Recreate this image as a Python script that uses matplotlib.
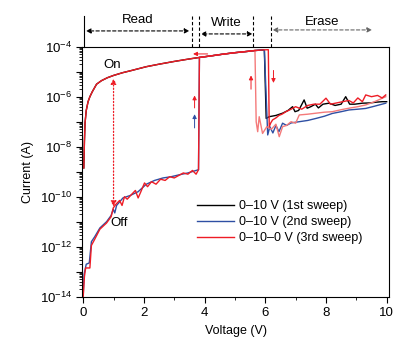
import numpy as np
import matplotlib
matplotlib.use("Agg")
import matplotlib.pyplot as plt
from matplotlib.ticker import FixedLocator, LogLocator, NullFormatter, FuncFormatter
import matplotlib.transforms as mtransforms

plt.rcParams['font.family'] = ['Liberation Sans', 'DejaVu Sans']
plt.rcParams['mathtext.fontset'] = 'custom'
plt.rcParams['mathtext.rm'] = 'Liberation Sans'

# on-state branch (log10 of current)
on_v = [0.02, 0.04, 0.06, 0.1, 0.16, 0.22, 0.3, 0.44, 0.6, 0.8, 1.0, 1.3, 1.6, 2.08, 2.5, 3.0, 3.5, 3.83,
        4.2, 4.6, 5.0, 5.4, 5.7, 5.91]
on_log = [-8.85, -7.8, -7.06, -6.55, -6.2, -6.0, -5.8, -5.5, -5.36, -5.24, -5.15, -5.04, -4.95, -4.8,
          -4.7, -4.59, -4.49, -4.43, -4.37, -4.3, -4.24, -4.19, -4.15, -4.13]

# off-state branches
blue_off_v = [0.0, 0.03, 0.1, 0.2, 0.27, 0.38, 0.55, 0.77, 0.92, 0.99, 1.04, 1.1, 1.31, 1.55, 1.81,
              2.08, 2.35, 2.63, 2.9, 3.18, 3.45, 3.72, 3.8]
blue_off_log = [-13.95, -13.1, -12.7, -12.65, -11.8, -11.6, -11.25, -11.0, -10.75, -10.5, -10.65,
                -10.35, -10.05, -9.95, -9.8, -9.5, -9.35, -9.25, -9.2, -9.12, -9.05, -8.95, -8.92]
red_off_v = [0.0, 0.04, 0.08, 0.22, 0.27, 0.38, 0.55, 0.77, 0.92, 0.99, 1.08, 1.2, 1.28, 1.36, 1.45,
             1.6, 1.72, 1.81, 1.9, 2.02, 2.12, 2.25, 2.4, 2.55, 2.7, 2.85, 3.0, 3.15, 3.3, 3.45, 3.6,
             3.72, 3.8]
red_off_log = [-14.0, -13.2, -12.85, -12.85, -11.95, -11.7, -11.3, -11.05, -10.8, -10.45, -10.3,
               -10.15, -10.35, -10.0, -10.1, -9.9, -9.75, -10.05, -9.8, -9.45, -9.6, -9.4, -9.5,
               -9.3, -9.35, -9.2, -9.25, -9.15, -9.05, -9.1, -8.95, -9.1, -8.92]

# erase region (after switching off)
black_er_v = [5.97, 6.03, 6.13, 6.35, 6.57, 6.75, 6.9, 6.98, 7.1, 7.28, 7.38, 7.5, 7.65, 7.75, 7.9,
              8.1, 8.3, 8.5, 8.65, 8.78, 8.95, 9.2, 9.45, 9.65, 9.85, 10.0]
black_er_log = [-4.15, -6.87, -6.8, -6.75, -6.66, -6.55, -6.4, -6.6, -6.55, -6.13, -6.46, -6.4,
                -6.3, -6.45, -6.3, -6.26, -6.35, -6.3, -6.0, -6.3, -6.3, -6.26, -6.25, -6.22,
                -6.2, -6.2]
blue_er_v = [5.97, 6.08, 6.15, 6.25, 6.35, 6.45, 6.57, 6.7, 6.85, 7.12, 7.4, 7.67, 7.95, 8.21, 8.5,
             8.76, 9.05, 9.31, 9.6, 9.97]
blue_er_log = [-4.15, -7.53, -7.2, -7.45, -7.15, -7.4, -7.06, -7.15, -7.05, -7.0, -6.95, -6.87,
               -6.78, -6.67, -6.6, -6.53, -6.5, -6.47, -6.38, -6.26]
red_fw_v = [6.1, 6.13, 6.18, 6.24, 6.35, 6.45, 6.55, 6.68, 6.85, 7.0, 7.2, 7.4, 7.6, 7.8, 8.0, 8.15,
            8.35, 8.55, 8.75, 8.9, 9.05, 9.2, 9.31, 9.5, 9.7, 9.85, 9.97]
red_fw_log = [-4.12, -7.2, -7.05, -6.93, -6.85, -6.75, -6.7, -6.6, -6.5, -6.4, -6.5, -6.35, -6.3,
              -6.3, -6.06, -6.3, -6.25, -6.2, -6.15, -6.25, -6.05, -6.2, -5.93, -6.0, -5.95,
              -6.05, -5.93]
red_bw_v = [9.97, 9.6, 9.31, 9.05, 8.76, 8.5, 8.21, 7.95, 7.67, 7.4, 7.12, 7.0, 6.85, 6.7, 6.57,
            6.46, 6.35, 6.2, 6.05, 5.91, 5.8, 5.75, 5.7, 5.66]
red_bw_log = [-6.0, -6.2, -6.33, -6.4, -6.46, -6.52, -6.6, -6.62, -6.66, -6.7, -6.73, -7.06, -7.0,
              -7.15, -7.2, -7.6, -7.1, -7.3, -7.2, -7.47, -6.8, -7.4, -7.0, -4.15]

# pieces of each sweep
black_v = on_v + black_er_v
black_log = on_log + black_er_log
blue_v = blue_off_v + [v for v in on_v if v > 3.8] + blue_er_v
blue_log = blue_off_log + [l for v, l in zip(on_v, on_log) if v > 3.8] + blue_er_log
red1_v = red_off_v + [v for v in on_v if v > 3.8] + red_fw_v
red1_log = red_off_log + [l for v, l in zip(on_v, on_log) if v > 3.8] + red_fw_log
red2_v = [5.66] + [v for v in on_v[::-1] if v < 5.66]
red2_log = [-4.15] + [l for v, l in zip(on_v[::-1], on_log[::-1]) if v < 5.66]

fig = plt.figure(figsize=(4.07, 3.58), dpi=100)
ax = fig.add_axes([0.2022, 0.1712, 0.7538, 0.6984])

RED = '#ee1c25'
BLUE = '#2e4fa3'
l1, = ax.plot(black_v, 10.0 ** np.array(black_log), color='black', lw=1.0, label='0\u201310 V (1st sweep)')
l2, = ax.plot(blue_v, 10.0 ** np.array(blue_log), color=BLUE, lw=1.0, label='0\u201310 V (2nd sweep)')
ax.plot(red_bw_v, 10.0 ** np.array(red_bw_log), color='#f47a7a', lw=1.0)
ax.plot(red2_v, 10.0 ** np.array(red2_log), color=RED, lw=1.0)
l3, = ax.plot(red1_v, 10.0 ** np.array(red1_log), color=RED, lw=1.0, label='0\u201310\u20130 V (3rd sweep)')

ax.set_yscale('log')
ax.set_xlim(-0.03, 10.08)
ax.set_ylim(1e-14, 1e-4)
ax.yaxis.set_major_locator(FixedLocator([10.0 ** k for k in range(-14, -3)]))
ax.yaxis.set_major_formatter(FuncFormatter(
    lambda y, p: r'$\mathregular{10^{%d}}$' % round(np.log10(y)) if round(np.log10(y)) % 2 == 0 else ''))
ax.yaxis.set_minor_locator(LogLocator(base=10, subs=np.arange(2, 10), numticks=30))
ax.yaxis.set_minor_formatter(NullFormatter())
ax.set_xticks([0, 2, 4, 6, 8, 10])
ax.set_xticks([1, 3, 5, 7, 9], minor=True)
ax.tick_params(direction='out', labelsize=9.5)
ax.tick_params(which='major', length=4, width=0.8)
ax.tick_params(which='minor', length=2.5, width=0.6)
ax.tick_params(axis='y', which='minor', length=2)
ax.set_xlabel('Voltage (V)', fontsize=9)
ax.set_ylabel('Current (A)', fontsize=9)

# small direction arrows
def arr(x0, y0, x1, y1, c):
    ax.annotate('', xy=(x1, 10.0 ** y1), xytext=(x0, 10.0 ** y0),
                arrowprops=dict(arrowstyle='-|>', color=c, lw=0.7, mutation_scale=6,
                                shrinkA=0, shrinkB=0))

arr(3.67, -6.45, 3.67, -5.95, RED)
arr(3.67, -7.25, 3.67, -6.7, BLUE)
arr(5.53, -5.7, 5.53, -5.15, RED)
arr(6.27, -4.95, 6.27, -5.45, RED)
arr(4.1, -4.29, 3.62, -4.29, RED)

# read-out dotted line
ax.annotate('', xy=(1.0, 10.0 ** -5.27), xytext=(1.0, 10.0 ** -10.4),
            arrowprops=dict(arrowstyle='<|-|>', color=RED, lw=0.9, ls=':',
                            mutation_scale=8, shrinkA=0, shrinkB=0))
ax.text(0.95, 10.0 ** -4.73, 'On', fontsize=9.5, ha='center', va='center')
ax.text(1.18, 10.0 ** -11.05, 'Off', fontsize=9.5, ha='center', va='center')

# Read / Write / Erase header
tr = mtransforms.blended_transform_factory(ax.transData, ax.transAxes)
ax.plot([0.02, 0.02], [1.0, 1.123], color='black', lw=0.8, transform=tr, clip_on=False)
for xv in [3.60, 3.83, 5.61, 6.19]:
    ax.plot([xv, xv], [1.0, 1.123], color='black', lw=0.8, ls=(0, (3, 2)), transform=tr, clip_on=False)
regions = [('Read', 0.09, 3.5, 1.063, 1.107, 'black'),
           ('Write', 3.87, 5.58, 1.051, 1.095, 'black'),
           ('Erase', 6.24, 9.52, 1.067, 1.10, '#666666')]
for name, a, b, ya, yt, c in regions:
    ax.annotate('', xy=(a, ya), xytext=(b, ya), xycoords=tr, textcoords=tr,
                arrowprops=dict(arrowstyle='<|-|>', color=c, lw=0.8, ls=(0, (3, 2)),
                                mutation_scale=7, shrinkA=0, shrinkB=0))
    ax.text((a + b) / 2, yt, name, transform=tr, ha='center', va='center', fontsize=9.5)

ax.legend(handles=[l1, l2, l3], loc='upper left', bbox_to_anchor=(0.355, 0.41), frameon=False,
          fontsize=9, handlelength=2.9, handletextpad=0.45, labelspacing=0.3, borderpad=0)

fig.savefig('out.png', dpi=100)
